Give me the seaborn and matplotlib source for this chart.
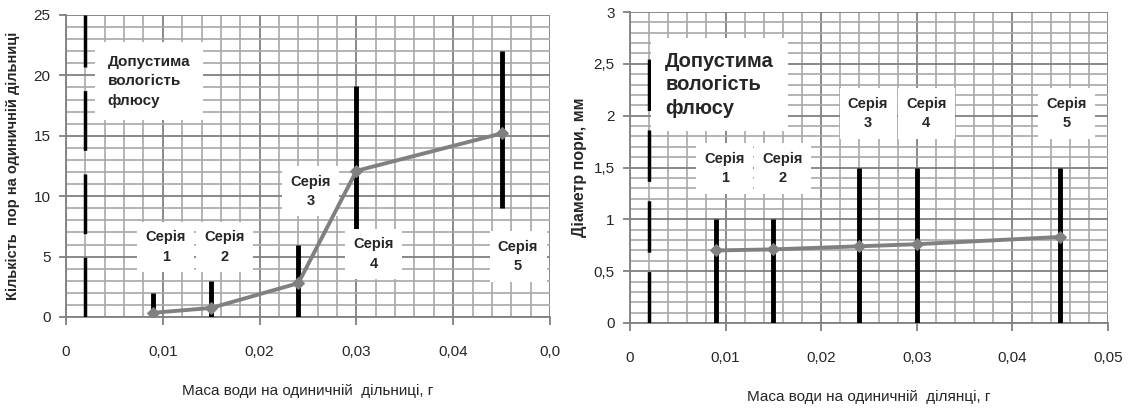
import matplotlib
matplotlib.use("Agg")
import matplotlib.pyplot as plt
from matplotlib.ticker import MultipleLocator
import seaborn as sns
import pandas as pd

# water mass per unit area, g
water_mass = [0.009, 0.015, 0.024, 0.030, 0.045]
series_names = ["Серія\n1", "Серія\n2", "Серія\n3", "Серія\n4", "Серія\n5"]

# left chart: number of pores per unit area
pore_count = [0.35, 0.75, 2.8, 12.1, 15.2]
count_low = [0, 0, 0, 7, 9]
count_high = [2, 3, 6, 19.1, 22]

# right chart: pore diameter, mm
pore_diam = [0.70, 0.71, 0.74, 0.76, 0.83]
diam_low = [0, 0, 0, 0, 0]
diam_high = [1.0, 1.0, 1.5, 1.5, 1.5]

allowed_mass = 0.002
allowed_text = "Допустима\nвологість\nфлюсу"

x_ticks = [0, 0.01, 0.02, 0.03, 0.04, 0.05]
x_labels_left = ["0", "0,01", "0,02", "0,03", "0,04", "0,0"]
x_labels_right = ["0", "0,01", "0,02", "0,03", "0,04", "0,05"]
y_ticks_left = [0, 5, 10, 15, 20, 25]
y_labels_left = ["0", "5", "10", "15", "20", "25"]
y_ticks_right = [0, 0.5, 1, 1.5, 2, 2.5, 3]
y_labels_right = ["0", "0,5", "1", "1,5", "2", "2,5", "3"]

sns.set_style("white")
plt.rcParams['font.family'] = ['Liberation Sans Narrow', 'Liberation Sans', 'DejaVu Sans']
plt.rcParams['lines.scale_dashes'] = False

fig = plt.figure(figsize=(11.36, 4.08), dpi=100)
ax1 = fig.add_axes([66/1136, 1-317/408, (550-66)/1136, (317-15)/408])
ax2 = fig.add_axes([630/1136, 1-323/408, (1108-630)/1136, (323-12)/408])


def style_axes(ax, ymax, yminor, xlabels, yticks, ylabels):
    ax.set_xlim(0, 0.05)
    ax.set_ylim(0, ymax)
    ax.set_xticks(x_ticks)
    ax.set_xticklabels(xlabels, fontsize=11)
    ax.set_yticks(yticks)
    ax.set_yticklabels(ylabels, fontsize=11)
    ax.xaxis.set_minor_locator(MultipleLocator(0.002))
    ax.yaxis.set_minor_locator(MultipleLocator(yminor))
    ax.grid(which="major", color="#808080", lw=1.3, zorder=0)
    ax.grid(which="minor", color="#a8a8a8", lw=1.2, zorder=0)
    ax.set_axisbelow(True)
    for s in ["top", "right"]:
        ax.spines[s].set_visible(False)
    for s in ["left", "bottom"]:
        ax.spines[s].set_color("#808080")
        ax.spines[s].set_linewidth(1.3)
    ax.tick_params(axis="x", which="major", direction="out", length=6, color="#808080",
                   width=1.3, pad=14, bottom=True)
    ax.tick_params(axis="y", which="major", direction="out", length=5, color="#808080",
                   width=1.3, pad=6, left=True)
    ax.tick_params(which="minor", length=0)


box = dict(facecolor="white", edgecolor="none", pad=6)

# left chart
df1 = pd.DataFrame({"mass": water_mass, "value": pore_count})
style_axes(ax1, 25, 1, x_labels_left, y_ticks_left, y_labels_left)
ax1.plot([allowed_mass, allowed_mass], [0, 25], color="black", lw=2.5,
         dashes=(43, 17), zorder=3, solid_capstyle="butt")
ax1.vlines(water_mass, count_low, count_high, color="black", lw=3.5, zorder=3)
sns.lineplot(data=df1, x="mass", y="value", ax=ax1, color="#808080", lw=2.8,
             marker="D", markersize=6, markeredgecolor="#808080", zorder=6)
ax1.text(0.0043, 19.5, allowed_text, fontsize=11, fontweight="bold", ha="left",
         va="center", linespacing=1.5, bbox=dict(facecolor="white", edgecolor="none", pad=9), zorder=5)
lbl1 = [(0.0103, 5.8), (0.0164, 5.8), (0.0253, 10.4), (0.0318, 5.2), (0.0467, 5.0)]
for name, (lx, ly) in zip(series_names, lbl1):
    ax1.text(lx, ly, name, fontsize=10.5, fontweight="bold", ha="center", va="center",
             linespacing=1.5, bbox=box, zorder=5)
ax1.set_xlabel("Маса води на одиничній  дільниці, г", fontsize=11, labelpad=18)
ax1.set_ylabel("Кількість  пор на одиничній дільниці", fontsize=10.5, fontweight="bold",
               labelpad=10)

# right chart
df2 = pd.DataFrame({"mass": water_mass, "value": pore_diam})
style_axes(ax2, 3, 0.1, x_labels_right, y_ticks_right, y_labels_right)
ax2.plot([allowed_mass, allowed_mass], [0, 2.72], color="black", lw=2.5,
         dashes=(37, 14), zorder=3, solid_capstyle="butt")
ax2.vlines(water_mass, diam_low, diam_high, color="black", lw=3.5, zorder=3)
sns.lineplot(data=df2, x="mass", y="value", ax=ax2, color="#808080", lw=2.8,
             marker="D", markersize=6, markeredgecolor="#808080", zorder=6)
ax2.text(0.0037, 2.3, allowed_text, fontsize=14.5, fontweight="bold", ha="left",
         va="center", linespacing=1.3, bbox=dict(facecolor="white", edgecolor="none", pad=10), zorder=5)
lbl2 = [(0.0099, 1.49), (0.016, 1.49), (0.0249, 2.02), (0.031, 2.02), (0.0457, 2.02)]
for name, (lx, ly) in zip(series_names, lbl2):
    ax2.text(lx, ly, name, fontsize=10.5, fontweight="bold", ha="center", va="center",
             linespacing=1.5, bbox=box, zorder=5)
ax2.set_xlabel("Маса води на одиничній  ділянці, г", fontsize=11, labelpad=18)
ax2.set_ylabel("Діаметр пори, мм", fontsize=11.5, fontweight="bold", labelpad=5)

for ax in (ax1, ax2):
    if ax.get_legend():
        ax.get_legend().remove()

fig.savefig("out.png", dpi=100)
